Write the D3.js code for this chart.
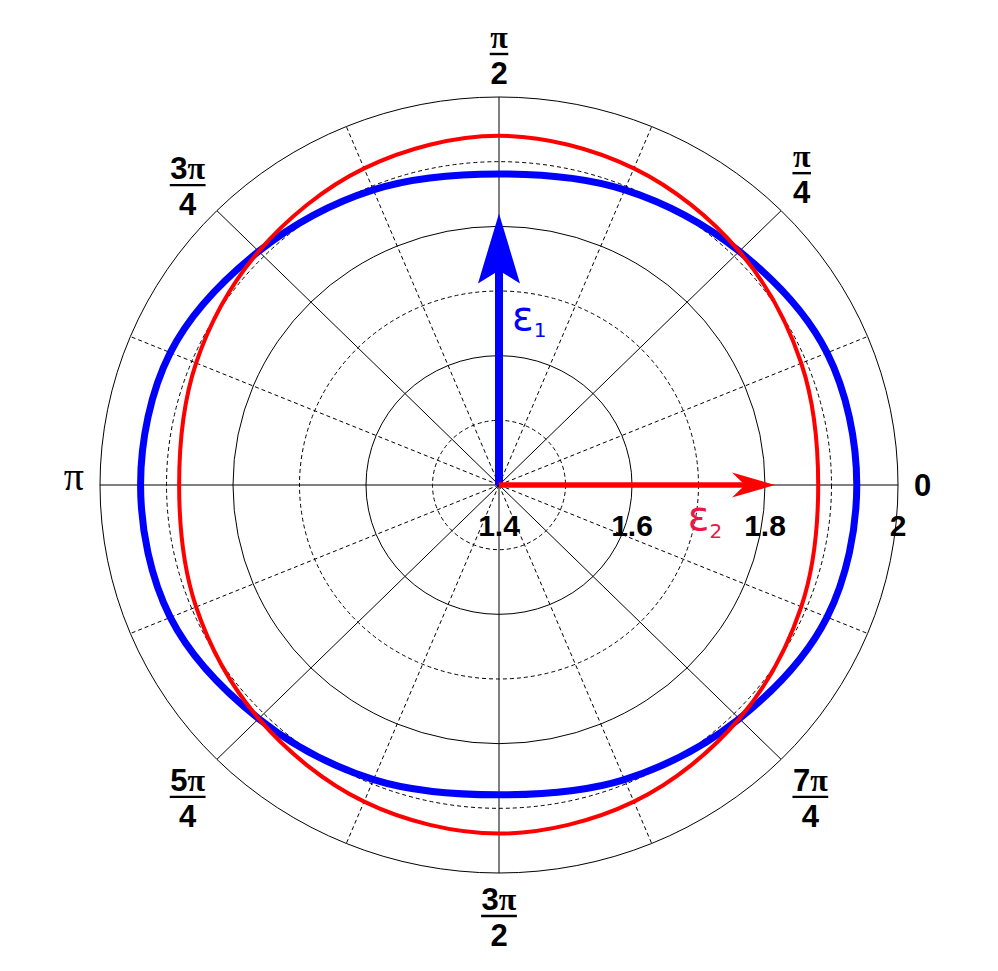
<!DOCTYPE html>
<html>
<head>
<meta charset="utf-8">
<script src="https://cdn.jsdelivr.net/npm/d3@7"></script>
<style>
  html, body { margin: 0; padding: 0; background: #fff; }
  svg { display: block; }
</style>
</head>
<body>
<div id="chart"></div>
<script>
const angles = [0, 22.5, 45, 67.5, 90, 112.5, 135, 157.5, 180, 202.5, 225, 247.5, 270, 292.5, 315, 337.5];
const eps1 = [1.938, 1.934, 1.911, 1.894, 1.881, 1.894, 1.911, 1.935, 1.939, 1.935, 1.911, 1.893, 1.879, 1.893, 1.911, 1.934];
const eps2 = [1.880, 1.892, 1.911, 1.930, 1.940, 1.930, 1.911, 1.893, 1.881, 1.893, 1.911, 1.930, 1.939, 1.930, 1.911, 1.892];

// arrows: [radius, angle in degrees]
const arrow1 = [1.82, 90];
const arrow2 = [1.815, 0];

const radialTicks = [1.4, 1.6, 1.8, 2];
const solidRings = [1.6, 1.8, 2.0];
const dashedRings = [1.5, 1.7, 1.9];
const solidSpokes = [0, 45, 90, 135, 180, 225, 270, 315];
const dashedSpokes = [22.5, 67.5, 112.5, 157.5, 202.5, 247.5, 292.5, 337.5];
const angleNum = ["0", "π", "π", "3π", "π", "5π", "3π", "7π"];
const angleDen = [null, "4", "2", "4", null, "4", "2", "4"];

const width = 998, height = 971;
const cx = 499, cy = 485;

const rx = d3.scaleLinear().domain([1.4, 2]).range([0, 399]);
const ry = d3.scaleLinear().domain([1.4, 2]).range([0, 388]);

function pt(r, deg) {
  const a = deg * Math.PI / 180;
  return [cx + rx(r) * Math.cos(a), cy - ry(r) * Math.sin(a)];
}

const svg = d3.select("#chart")
  .append("svg")
  .attr("width", width)
  .attr("height", height);

const grid = svg.append("g").attr("fill", "none").attr("stroke", "#000");

// rings
grid.selectAll("ellipse.solid")
  .data(solidRings)
  .join("ellipse")
  .attr("cx", cx).attr("cy", cy)
  .attr("rx", d => rx(d)).attr("ry", d => ry(d))
  .attr("stroke-width", 1);

grid.selectAll("ellipse.dashed")
  .data(dashedRings)
  .join("ellipse")
  .attr("class", "dashed")
  .attr("cx", cx).attr("cy", cy)
  .attr("rx", d => rx(d)).attr("ry", d => ry(d))
  .attr("stroke-width", 1)
  .attr("stroke-dasharray", "4,3");

// spokes
grid.selectAll("line.solid")
  .data(solidSpokes)
  .join("line")
  .attr("class", "solid")
  .attr("x1", cx).attr("y1", cy)
  .attr("x2", d => pt(2, d)[0]).attr("y2", d => pt(2, d)[1])
  .attr("stroke-width", 1);

grid.selectAll("line.dashed")
  .data(dashedSpokes)
  .join("line")
  .attr("class", "dashed")
  .attr("x1", cx).attr("y1", cy)
  .attr("x2", d => pt(2, d)[0]).attr("y2", d => pt(2, d)[1])
  .attr("stroke-width", 1)
  .attr("stroke-dasharray", "4,3");

// curves
const line = d3.line()
  .x(d => d[0]).y(d => d[1])
  .curve(d3.curveCatmullRomClosed.alpha(0.5));

svg.append("path")
  .attr("d", line(angles.map((a, i) => pt(eps1[i], a))))
  .attr("fill", "none")
  .attr("stroke", "#0000ff")
  .attr("stroke-width", 7);

svg.append("path")
  .attr("d", line(angles.map((a, i) => pt(eps2[i], a))))
  .attr("fill", "none")
  .attr("stroke", "#ff0000")
  .attr("stroke-width", 4);

// arrows
function drawArrow(target, color, shaft, headLen, headHalf, notch) {
  const [tx, ty] = pt(target[0], target[1]);
  const ang = Math.atan2(ty - cy, tx - cx);
  const ux = Math.cos(ang), uy = Math.sin(ang);
  const nx = -uy, ny = ux;
  const back = (d, s) => [tx - ux * d + nx * s, ty - uy * d + ny * s];
  const n = back(notch, 0);
  svg.append("line")
    .attr("x1", cx).attr("y1", cy)
    .attr("x2", n[0] + ux * 2).attr("y2", n[1] + uy * 2)
    .attr("stroke", color)
    .attr("stroke-width", shaft);
  const head = [[tx, ty], back(headLen, headHalf), n, back(headLen, -headHalf)];
  svg.append("path")
    .attr("d", "M" + head.map(p => p.join(",")).join("L") + "Z")
    .attr("fill", color);
}

drawArrow(arrow1, "#0000ff", 8, 70, 21, 57);
drawArrow(arrow2, "#ff0000", 5.5, 43, 12.5, 30);

// epsilon labels
const e1 = svg.append("text")
  .attr("x", cx + 13).attr("y", pt(1.64, 90)[1])
  .attr("fill", "#0000ff")
  .style("font-family", "DejaVu Sans")
  .style("font-size", "40px");
e1.append("tspan").text("ε");
e1.append("tspan").attr("dy", 7).style("font-size", "20px").text("1");

const e2 = svg.append("text")
  .attr("x", pt(1.684, 0)[0]).attr("y", cy + 45)
  .attr("fill", "#eb1648")
  .style("font-family", "DejaVu Sans")
  .style("font-size", "40px");
e2.append("tspan").text("ε");
e2.append("tspan").attr("dy", 8).style("font-size", "20px").text("2");

// radial tick labels
svg.append("g")
  .selectAll("text")
  .data(radialTicks)
  .join("text")
  .attr("x", d => cx + rx(d))
  .attr("y", cy + 51)
  .attr("text-anchor", "middle")
  .style("font-family", "Liberation Sans, Arial, sans-serif")
  .style("font-weight", "bold")
  .style("font-size", "30px")
  .text(d => d3.format("")(d));

// angular labels
function fillNum(textSel, str) {
  for (const ch of str) {
    const t = textSel.append("tspan").text(ch);
    if (ch === "π") {
      t.style("font-family", "Liberation Serif, Times New Roman, serif")
        .style("font-weight", "bold")
        .style("font-size", "32px");
    }
  }
}

solidSpokes.forEach((deg, i) => {
  const a = deg * Math.PI / 180;
  const c = Math.cos(a), s = Math.sin(a);
  const g = svg.append("g")
    .style("font-family", "Liberation Sans, Arial, sans-serif")
    .style("font-weight", "bold")
    .style("font-size", "31px");

  if (angleDen[i] == null) {
    const t = g.append("text")
      .attr("x", cx + 415 * c)
      .attr("text-anchor", c > 0 ? "start" : "end");
    if (angleNum[i] === "π") {
      t.attr("y", cy + 5)
        .style("font-family", "Liberation Serif, Times New Roman, serif")
        .style("font-weight", "normal")
        .style("font-size", "40px")
        .text(angleNum[i]);
    } else {
      t.attr("y", cy + 11).text(angleNum[i]);
    }
    return;
  }

  const num = g.append("text").attr("text-anchor", "middle").attr("y", -6);
  fillNum(num, angleNum[i]);
  const den = g.append("text").attr("text-anchor", "middle").attr("y", 30).text(angleDen[i]);
  const w = Math.max(num.node().getComputedTextLength(), den.node().getComputedTextLength()) + 1;
  g.append("line")
    .attr("x1", -w / 2).attr("x2", w / 2)
    .attr("y1", 0).attr("y2", 0)
    .attr("stroke", "#000")
    .attr("stroke-width", 2.4);

  let x, y;
  if (Math.abs(c) < 0.01) {
    x = cx;
    y = cy - 431 * s;
  } else {
    const ax = cx + 415 * c;
    x = c > 0 ? ax + w / 2 : ax - w / 2;
    y = cy - 441 * s;
    if (deg === 135) y += 12;
  }
  g.attr("transform", `translate(${x},${y})`);
});
</script>
</body>
</html>
